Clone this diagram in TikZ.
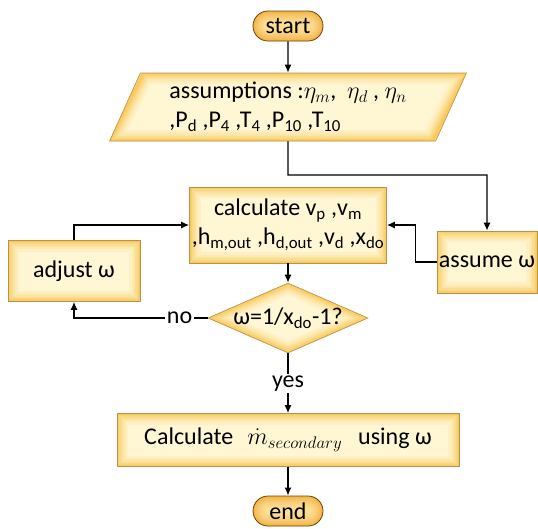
\RequirePackage{fix-cm}
\documentclass[tikz,border=0pt]{standalone}
\usepackage{fontspec}
\setmainfont{Carlito}
\usetikzlibrary{arrows.meta,shapes.geometric,shapes.misc}

\definecolor{boxedge}{HTML}{F6BF3E}
\definecolor{boxcore}{HTML}{FFF6D4}
\definecolor{boxline}{HTML}{B8924A}
\definecolor{pilledge}{HTML}{F2A92E}
\definecolor{pillcore}{HTML}{FCDD96}
\definecolor{pillline}{HTML}{6E4408}

% soft coloured rim drawn inside a shape
% #1 = rim colour
% #2 = outline of the shape
\newcommand{\edgeglow}[2]{%
  \foreach \w/\o in {22/0.1,17/0.12,13/0.14,10/0.16,7/0.2,4.5/0.25,2/0.35}{
    \draw[#1, line width=\w pt, opacity=\o] #2;
  }}

\begin{document}
\begin{tikzpicture}[
    x=1pt, y=-1pt,
    every node/.style={font=\fontsize{24}{29}\selectfont},
    flowbox/.style={
        draw=boxline,
        line width=0.6pt,
        fill=boxcore,
        inner sep=0pt,
        align=center,
        path picture={\edgeglow{boxedge}{(path picture bounding box.south west) rectangle (path picture bounding box.north east)}}
    },
    databox/.style={
        trapezium,
        trapezium left angle=63.43,
        trapezium right angle=116.57,
        trapezium stretches=true,
        draw=boxline,
        line width=0.6pt,
        fill=boxcore,
        inner sep=0pt,
        align=left,
        path picture={\edgeglow{boxedge}{([xshift=34pt]path picture bounding box.north west) -- (path picture bounding box.north east) -- ([xshift=-34pt]path picture bounding box.south east) -- (path picture bounding box.south west) -- cycle}}
    },
    testbox/.style={
        diamond,
        aspect=2.3,
        draw=boxline,
        line width=0.6pt,
        fill=boxcore,
        inner sep=0pt,
        path picture={\edgeglow{boxedge}{(path picture bounding box.north) -- (path picture bounding box.east) -- (path picture bounding box.south) -- (path picture bounding box.west) -- cycle}}
    },
    pillbox/.style={
        rounded rectangle,
        draw=pillline,
        line width=0.8pt,
        fill=pillcore,
        inner sep=0pt,
        minimum width=70pt,
        minimum height=30pt,
        path picture={\edgeglow{pilledge}{[rounded corners=15pt] (path picture bounding box.south west) rectangle (path picture bounding box.north east)}}
    },
    arr/.style={draw=black, line width=1.4pt, -{Latex[length=8pt,width=7pt]}},
    lbl/.style={fill=white, inner sep=1.5pt}
]
\useasboundingbox (0,0) rectangle (538,528);

% ---------- terminals ----------
\node[pillbox] (start) at (288,26) {start};
\node[pillbox] (end) at (288,511) {end};

% ---------- input data ----------
\node[databox, minimum width=358pt, minimum height=68pt] (assum) at (288,107)
    {assumptions :$\eta_m$,\ \ $\eta_d$ , $\eta_n$\\
     ,P\textsubscript{d} ,P\textsubscript{4} ,T\textsubscript{4} ,P\textsubscript{10} ,T\textsubscript{10}};

% ---------- iteration on omega ----------
\node[flowbox, minimum width=100pt, minimum height=62pt] (assume) at (487,262) {assume ω};
\node[flowbox, minimum width=197pt, minimum height=76pt] (calc) at (288,225)
    {calculate v\textsubscript{p} ,v\textsubscript{m}\\
     ,h\textsubscript{m,out} ,h\textsubscript{d,out} ,v\textsubscript{d} ,x\textsubscript{do}};
\node[flowbox, minimum width=132pt, minimum height=61pt] (adjust) at (74,271) {adjust ω};
\node[testbox, minimum width=160pt, minimum height=70pt] (dec) at (288,318)
    {ω=1/x\textsubscript{do}-1?};

% ---------- result ----------
\node[flowbox, minimum width=342pt, minimum height=53pt] (calcm) at (288,440)
    {Calculate\hspace{14pt}$\dot{m}_{secondary}$\hspace{16pt}using ω};

% ---------- connectors ----------
\coordinate (bend) at (288,175);
\draw[arr] (start) -- (assum);
\draw[arr] (assum.south) -- (bend) -| (assume.north);
\draw[arr] (assume.west) -- ++(-21,0) |- (calc.east);
\draw[arr] (adjust.north) |- (calc.west);
\draw[arr] (calc) -- (dec);
\draw[arr] (dec.west) -| node[lbl, pos=0.105] {no} (adjust.south);
\draw[arr] (dec.south) -- node[lbl] {yes} (calcm.north);
\draw[arr] (calcm) -- (end);

\end{tikzpicture}
\end{document}
